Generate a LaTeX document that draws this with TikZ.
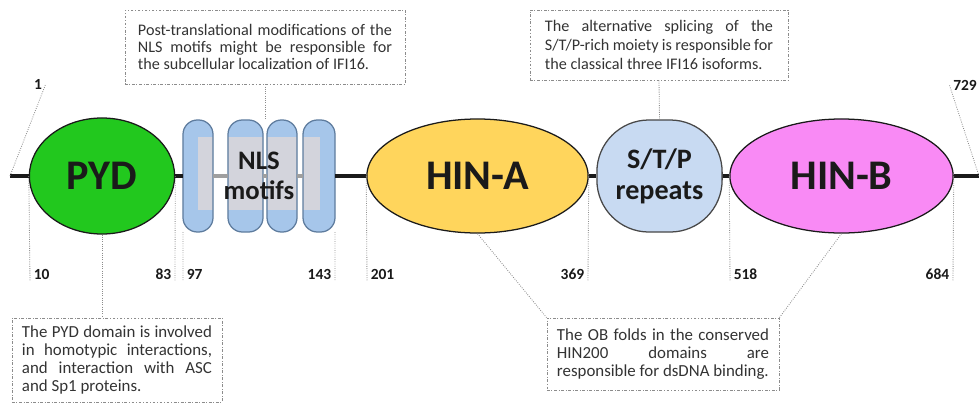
\documentclass[tikz,border=0pt]{standalone}
\usepackage{fontspec}
\setmainfont{Carlito}
\usepackage{tikz}
\usetikzlibrary{positioning,fit,calc,shapes.geometric}
\definecolor{ink}{HTML}{1A1A1A}
\definecolor{pydgreen}{HTML}{22C81E}
\definecolor{hinagold}{HTML}{FFD55C}
\definecolor{hinbpink}{HTML}{F98AF5}
\definecolor{stpblue}{HTML}{C8DAF2}
\definecolor{nlsblue}{HTML}{A6C6EA}
\definecolor{nlsedge}{HTML}{5E7C9E}
\definecolor{nlsgray}{HTML}{D3D4DC}
\definecolor{notegray}{HTML}{8C8C8C}
\definecolor{textgray}{HTML}{333333}
\newcommand{\jrow}[2]{\makebox[#1][s]{#2}}
\newcommand{\lrow}[2]{\makebox[#1][l]{#2}}
\tikzset{
  domainoval/.style={ellipse, draw=ink, line width=0.9pt, align=center, inner sep=0pt, text=ink, font=\fontsize{30}{32}\selectfont\bfseries},
  motif/.style={rectangle, rounded corners=0.36cm, fill=nlsblue, inner sep=0pt, outer sep=0pt, minimum height=2.8cm},
  motifedge/.style={draw=nlsedge, line width=0.9pt},
  repeats/.style={rectangle, rounded corners=1.3cm, draw=ink!80, line width=0.9pt, fill=stpblue, align=center, inner sep=0pt, text=ink, minimum width=3.13cm, minimum height=2.8cm, font=\fontsize{20}{22}\selectfont\bfseries},
  note/.style={rectangle, draw=notegray, line width=0.6pt, dash pattern=on 2pt off 1.2pt on 0.6pt off 1.2pt, align=left, inner sep=0pt, text=textgray},
  poslabel/.style={inner ysep=1pt, inner xsep=2.5pt, text=ink, font=\fontsize{11}{12}\selectfont\bfseries},
  backbone/.style={line width=3pt, draw=ink},
  tick/.style={draw=notegray, densely dotted, line width=0.6pt}
}
\begin{document}
\begin{tikzpicture}[x=0.025cm, y=-0.025cm]
  \useasboundingbox (0,0) rectangle (979,408);
  \coordinate (nterm) at (10,176);
  \coordinate (cterm) at (979,176);
  \node[domainoval, fill=pydgreen, minimum width=3.63cm, minimum height=2.9cm] (pyd) at (102,176) {PYD};
  \node[motif, minimum width=0.75cm] (c1) at (198,176) {};
  \node[motif, minimum width=0.875cm] (c2) at (245.5,176) {};
  \node[motif, minimum width=0.75cm] (c3) at (282,176) {};
  \node[motif, minimum width=0.8cm] (c4) at (319,176) {};
  \foreach \c in {c1,c2,c3,c4}{
    \begin{scope}
      \clip[rounded corners=0.36cm] (\c.south west) rectangle (\c.north east);
      \fill[nlsgray] (198,137) rectangle (320,210);
    \end{scope}
    \draw[motifedge, rounded corners=0.36cm] (\c.south west) rectangle (\c.north east);
  }
  \node[fit=(c1)(c4), inner sep=0pt] (nls) {};
  \node[domainoval, fill=hinagold, minimum width=5.53cm, minimum height=2.85cm] (hina) at (477.5,176) {HIN-A};
  \node[repeats] (stp) at (659.5,176) {S/T/P\\repeats};
  \node[domainoval, fill=hinbpink, minimum width=5.58cm, minimum height=2.85cm] (hinb) at (841.5,176) {HIN-B};
  \draw[backbone] (nterm) -- (pyd);
  \draw[backbone] (pyd) -- (c1);
  \draw[backbone, draw=gray!75] (c1) -- (c2);
  \draw[backbone, draw=gray!75] (c2) -- (c3);
  \draw[backbone, draw=gray!75] (c3) -- (c4);
  \draw[backbone] (c4) -- (hina);
  \draw[backbone] (hina) -- (stp);
  \draw[backbone] (stp) -- (hinb);
  \draw[backbone] (hinb) -- (cterm);
  \node[align=center, text=ink, font=\fontsize{19}{21}\selectfont\bfseries] (nlstext) at (nls.center) {NLS\\motifs};

  \node[poslabel] (l1) at (38,84) {1};
  \node[poslabel] (l729) at (965,85) {729};
  \node[poslabel, anchor=south west] (l10) at (30,281) {10};
  \node[poslabel, anchor=south east] (l83) at (175,281) {83};
  \node[poslabel, anchor=south west] (l97) at (183,281) {97};
  \node[poslabel, anchor=south east] (l143) at (335,281) {143};
  \node[poslabel, anchor=south west] (l201) at (367,281) {201};
  \node[poslabel, anchor=south east] (l369) at (588,281) {369};
  \node[poslabel, anchor=south west] (l518) at (730,281) {518};
  \node[poslabel, anchor=south east] (l684) at (953,281) {684};
  \draw[tick] (nterm) -- (l1.east);
  \draw[tick] (cterm) -- (l729.west);
  \draw[tick] (pyd.west) -- (l10.south west);
  \draw[tick] (pyd.east) -- (l83.south east);
  \draw[tick] (c1.south west) -- (l97.south west);
  \draw[tick] (c4.south east) -- (l143.south east);
  \draw[tick] (hina.west) -- (l201.south west);
  \draw[tick] (hina.east) -- (l369.south east);
  \draw[tick] (hinb.west) -- (l518.south west);
  \draw[tick] (hinb.east) -- (l684.south east);

  \node[note, minimum width=7.0cm, minimum height=1.85cm, font=\fontsize{11.5}{12}\selectfont] (nlsnote) at (265,47)
    {\jrow{6.35cm}{Post-translational modifications of the}\\
     \jrow{6.35cm}{NLS motifs might be responsible for}\\
     \lrow{6.35cm}{the subcellular localization of IFI16.}};
  \node[note, minimum width=6.45cm, minimum height=1.75cm, font=\fontsize{11.5}{13.5}\selectfont] (stpnote) at (659,45)
    {\jrow{5.7cm}{The alternative splicing of the}\\
     \jrow{5.7cm}{S/T/P-rich moiety is responsible for}\\
     \lrow{5.7cm}{the classical three IFI16 isoforms.}};
  \node[note, minimum width=5.25cm, minimum height=2.1cm, font=\fontsize{12}{12.8}\selectfont] (pydnote) at (117,360)
    {\jrow{4.75cm}{The PYD domain is involved}\\
     \jrow{4.75cm}{in homotypic interactions,}\\
     \jrow{4.75cm}{and interaction with ASC}\\
     \lrow{4.75cm}{and Sp1 proteins.}};
  \node[note, minimum width=5.8cm, minimum height=1.8cm, font=\fontsize{12}{12.8}\selectfont] (obnote) at (663,354)
    {\jrow{5.3cm}{The OB folds in the conserved}\\
     \jrow{5.3cm}{HIN200 domains are}\\
     \lrow{5.3cm}{responsible for dsDNA binding.}};
  \draw[tick] (nlsnote.south) -- (nlsnote.south |- nls.north);
  \draw[tick] (stpnote.south) -- (stp.north);
  \draw[tick] (pyd.south) -- (pyd.south |- pydnote.north);
  \draw[tick] (hina.south) -- (obnote.north west);
  \draw[tick] (hinb.south) -- (obnote.north east);
\end{tikzpicture}
\end{document}
